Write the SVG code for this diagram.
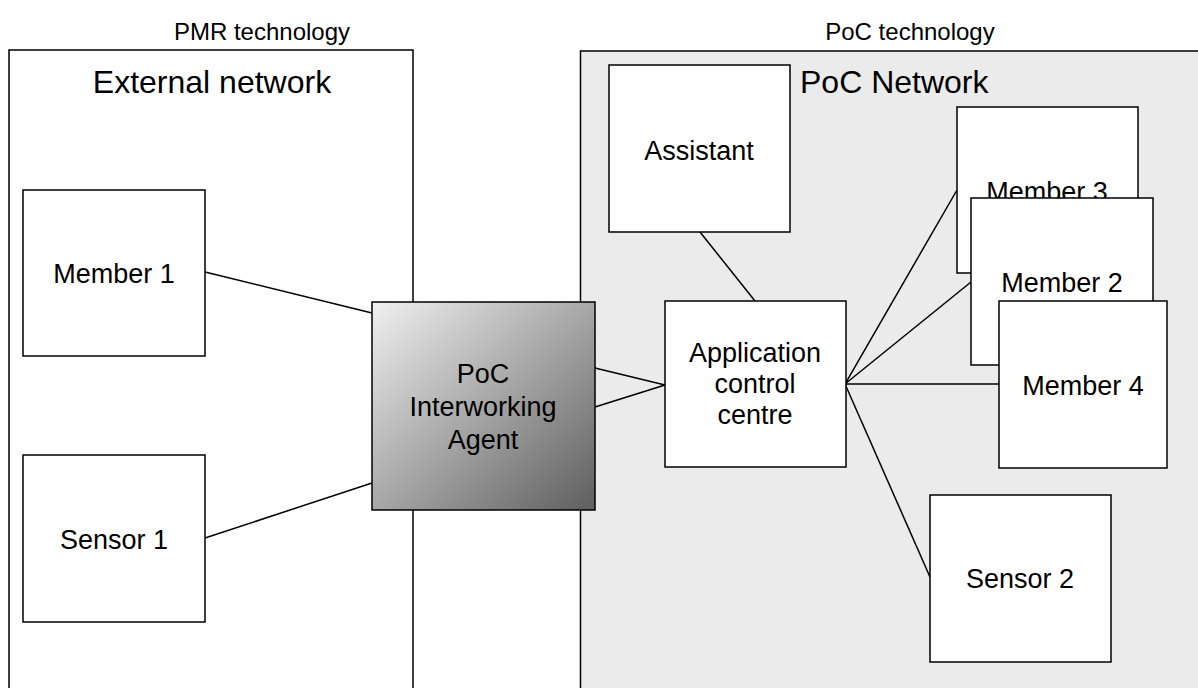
<svg xmlns="http://www.w3.org/2000/svg" width="1198" height="688" viewBox="0 0 1198 688">
<defs>
<linearGradient id="g" x1="0" y1="0" x2="1" y2="1">
<stop offset="0" stop-color="#f0f0f0"/>
<stop offset="1" stop-color="#5e5e5e"/>
</linearGradient>
<style>
text{font-family:"Liberation Sans",Arial,sans-serif;fill:#000}
.b{fill:#fff;stroke:#000;stroke-width:1.5}
.l{font-size:27px;text-anchor:middle}
.h{font-size:32px}
.t{font-size:24px;text-anchor:middle}
#connectors line{stroke:#000;stroke-width:1.5}
</style>
</defs>
<rect width="1198" height="688" fill="#fff"/>
<text class="t" x="262" y="40">PMR technology</text>
<text class="t" x="910" y="40">PoC technology</text>
<g id="external">
<rect x="9" y="50" width="404" height="650" fill="#fff" stroke="#000" stroke-width="1.5"/>
<text class="h" x="212" y="93" text-anchor="middle">External network</text>
</g>
<g id="pocnet">
<rect x="580.5" y="51" width="640" height="650" fill="#ebebeb" stroke="#000" stroke-width="1.5"/>
<text class="h" x="800" y="93">PoC Network</text>
</g>
<g id="connectors">
<line x1="205" y1="272" x2="372" y2="313"/>
<line x1="205" y1="538" x2="372" y2="483"/>
<line x1="595" y1="368" x2="665" y2="385"/>
<line x1="595" y1="407" x2="665" y2="385"/>
<line x1="700" y1="232" x2="755" y2="301"/>
<line x1="845" y1="384" x2="957" y2="190"/>
<line x1="845" y1="384" x2="971" y2="282"/>
<line x1="845" y1="384" x2="999" y2="384"/>
<line x1="845" y1="384" x2="930" y2="577"/>
</g>
<g id="member1">
<rect class="b" x="23" y="190" width="182" height="166"/>
<text class="l" x="114" y="283">Member 1</text>
</g>
<g id="sensor1">
<rect class="b" x="23" y="455" width="182" height="167"/>
<text class="l" x="114" y="549">Sensor 1</text>
</g>
<g id="iwa">
<rect x="372" y="302" width="223" height="208" fill="url(#g)" stroke="#000" stroke-width="1.5"/>
<text class="l" x="483" y="383">PoC</text>
<text class="l" x="483" y="416">Interworking</text>
<text class="l" x="483" y="449">Agent</text>
</g>
<g id="assistant">
<rect class="b" x="609" y="65" width="181" height="167"/>
<text class="l" x="699" y="160">Assistant</text>
</g>
<g id="acc">
<rect class="b" x="665" y="301" width="181" height="166"/>
<text class="l" x="755" y="362">Application</text>
<text class="l" x="755" y="393">control</text>
<text class="l" x="755" y="424">centre</text>
</g>
<g id="member3">
<rect class="b" x="957" y="107" width="181" height="166"/>
<text class="l" x="1047" y="201">Member 3</text>
</g>
<g id="member2">
<rect class="b" x="971" y="198" width="182" height="167"/>
<text class="l" x="1062" y="292">Member 2</text>
</g>
<g id="member4">
<rect class="b" x="999" y="301" width="168" height="167"/>
<text class="l" x="1083" y="395">Member 4</text>
</g>
<g id="sensor2">
<rect class="b" x="930" y="495" width="181" height="167"/>
<text class="l" x="1020" y="588">Sensor 2</text>
</g>
</svg>
